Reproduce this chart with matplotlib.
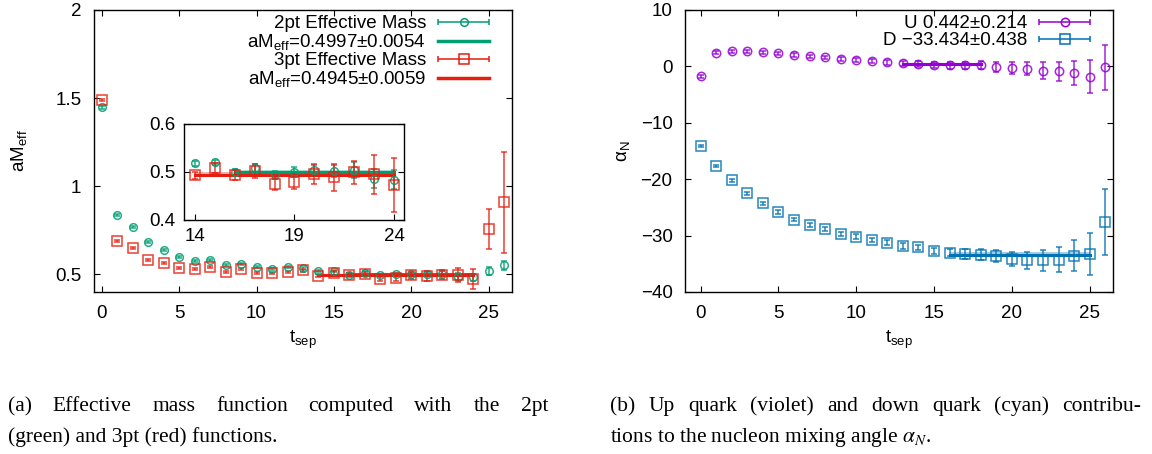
import numpy as np
import matplotlib.pyplot as plt
from matplotlib.lines import Line2D
from matplotlib.legend_handler import HandlerErrorbar

plt.rcParams['font.family'] = ['Liberation Sans', 'DejaVu Sans']
plt.rcParams['font.size'] = 13.5

# Datos: masa efectiva (2pt y 3pt) vs t_sep
tsep = np.arange(27)
m2pt = [1.447, 0.835, 0.769, 0.684, 0.640, 0.597, 0.576, 0.583, 0.551, 0.559,
        0.540, 0.530, 0.540, 0.534, 0.518, 0.520, 0.499, 0.508, 0.494, 0.500,
        0.504, 0.502, 0.504, 0.486, 0.484, 0.521, 0.551]
m2pt_err = [0.006, 0.005, 0.005, 0.005, 0.005, 0.005, 0.005, 0.006, 0.006, 0.006,
            0.006, 0.006, 0.006, 0.007, 0.005, 0.006, 0.008, 0.009, 0.008, 0.010,
            0.011, 0.013, 0.016, 0.020, 0.020, 0.022, 0.026]
m3pt = [1.489, 0.689, 0.649, 0.583, 0.5625, 0.534, 0.530, 0.540, 0.513, 0.530,
        0.507, 0.509, 0.513, 0.523, 0.493, 0.508, 0.494, 0.502, 0.476, 0.480,
        0.495, 0.489, 0.499, 0.495, 0.473, 0.757, 0.909]
m3pt_err = [0.007, 0.006, 0.006, 0.006, 0.006, 0.006, 0.006, 0.006, 0.006, 0.006,
            0.006, 0.006, 0.007, 0.007, 0.008, 0.011, 0.011, 0.014, 0.013, 0.016,
            0.021, 0.028, 0.023, 0.041, 0.056, 0.115, 0.285]
fit2 = (0.4997, 0.0054)
fit2_range = (16, 24)
fit3 = (0.4945, 0.0059)
fit3_range = (14, 24)

# Datos: angulo de mezcla alpha_N (quark U y D)
alpha_u = [-1.76, 2.41, 2.70, 2.65, 2.53, 2.29, 2.00, 1.76, 1.59, 1.29,
           1.12, 0.94, 0.71, 0.53, 0.47, 0.24, 0.18, 0.18, 0.24, -0.12,
           -0.29, -0.41, -0.76, -0.88, -1.18, -1.82, -0.12]
alpha_u_err = [0.25, 0.25, 0.25, 0.25, 0.25, 0.25, 0.3, 0.3, 0.3, 0.35,
               0.35, 0.4, 0.4, 0.45, 0.5, 0.55, 0.6, 0.6, 0.7, 0.9,
               1.06, 1.2, 1.48, 1.74, 2.2, 2.9, 4.0]
alpha_d = [-14.1, -17.6, -20.2, -22.5, -24.3, -25.8, -27.2, -28.1, -28.9, -29.7,
           -30.2, -30.8, -31.3, -31.9, -32.1, -32.7, -33.0, -33.2, -33.4, -33.6,
           -34.15, -34.4, -34.4, -34.3, -33.55, -33.3, -27.6]
alpha_d_err = [0.2, 0.2, 0.25, 0.25, 0.25, 0.3, 0.3, 0.3, 0.35, 0.35,
               0.4, 0.4, 0.45, 0.5, 0.5, 0.55, 0.7, 0.9, 1.0, 1.1,
               1.24, 1.5, 1.8, 2.2, 2.7, 3.7, 5.8]
fit_u = (0.442, 0.214)
fit_u_range = (13, 18)
fit_d = (-33.434, 0.438)
fit_d_range = (16, 25)

GREEN = '#009e73'
RED = '#e51e10'
VIOLET = '#9400d3'
BLUE = '#0072b2'

W, H = 1152, 454
fig = plt.figure(figsize=(W / 100, H / 100), dpi=100)


def px_axes(x0, x1, ytop, ybot):
    return fig.add_axes([x0 / W, 1 - ybot / H, (x1 - x0) / W, (ybot - ytop) / H])


def puntos(ax, y, yerr, color, marker, ms):
    ax.errorbar(tsep, y, yerr=yerr, fmt=marker, color=color, mfc='none', ms=ms,
                mew=1.1, elinewidth=1.1, capsize=2.2, capthick=1.1, alpha=0.85)


def ajuste(ax, fit, rng, color):
    v, e = fit
    ax.fill_between(rng, [v - e] * 2, [v + e] * 2, color=color, alpha=0.35, lw=0)
    ax.plot(rng, [v, v], color=color, lw=2.2)


def estilo(ax, pad=9, top=True):
    ax.tick_params(direction='in', top=top, right=True, length=4, width=0.8, pad=pad)
    for s in ax.spines.values():
        s.set_linewidth(1.0)


def proxy(ax, color, marker, ms):
    return ax.errorbar([np.nan], [np.nan], xerr=[1], fmt=marker, color=color,
                       mfc='none', ms=ms, mew=1.1, elinewidth=1.1, capsize=2.2,
                       capthick=1.1)


def leyenda(ax, handles, labels, width_px):
    # markerfirst=False: el texto queda alineado a la derecha, pegado al simbolo
    hl = 2.7
    hmap = {h: HandlerErrorbar(xerr_size=hl / 2) for h in handles
            if not isinstance(h, Line2D)}
    return ax.legend(handles, labels, loc='upper right', frameon=False,
                     markerfirst=False, handlelength=hl, handletextpad=0.65,
                     labelspacing=0.0, borderpad=0, borderaxespad=0,
                     bbox_to_anchor=(1 - 23 / width_px, 1 - 5 / 282),
                     handler_map=hmap, fontsize=13.5)


# (a) masa efectiva
ax1 = px_axes(94, 512, 10, 292)
puntos(ax1, m2pt, m2pt_err, GREEN, 'o', 5.5)
ajuste(ax1, fit2, fit2_range, GREEN)
puntos(ax1, m3pt, m3pt_err, RED, 's', 6.5)
ajuste(ax1, fit3, fit3_range, RED)
ax1.set_xlim(-0.5, 26.5)
ax1.set_ylim(0.4, 2.0)
ax1.set_xticks([0, 5, 10, 15, 20, 25])
ax1.set_yticks([0.5, 1, 1.5, 2])
ax1.set_yticklabels(['0.5', '1', '1.5', '2'])
estilo(ax1)
ax1.set_xlabel(r'$\mathregular{t_{sep}}$')
ax1.set_ylabel(r'$\mathregular{aM_{eff}}$')
ax1.xaxis.set_label_coords(0.5, -0.13)
ax1.yaxis.set_label_coords(-0.155, 0.5)

h2 = proxy(ax1, GREEN, 'o', 5.5)
h3 = proxy(ax1, RED, 's', 6.5)
l2 = Line2D([], [], color=GREEN, lw=2.5)
l3 = Line2D([], [], color=RED, lw=2.5)
leyenda(ax1, [h2, l2, h3, l3],
        ['2pt Effective Mass', r'aM$\mathregular{_{eff}}$=0.4997±0.0054',
         '3pt Effective Mass', r'aM$\mathregular{_{eff}}$=0.4945±0.0059'], 418)

# recuadro
axi = px_axes(184, 404, 124, 220)
puntos(axi, m2pt, m2pt_err, GREEN, 'o', 5.5)
ajuste(axi, fit2, fit2_range, GREEN)
puntos(axi, m3pt, m3pt_err, RED, 's', 6.5)
ajuste(axi, fit3, fit3_range, RED)
axi.set_xlim(13.45, 24.5)
axi.set_ylim(0.4, 0.6)
axi.set_xticks([14, 19, 24])
axi.set_yticks([0.4, 0.5, 0.6])
estilo(axi, pad=6, top=False)

# (b) alpha_N
ax2 = px_axes(685, 1113, 10, 292)
puntos(ax2, alpha_u, alpha_u_err, VIOLET, 'o', 6)
ajuste(ax2, fit_u, fit_u_range, VIOLET)
puntos(ax2, alpha_d, alpha_d_err, BLUE, 's', 6.5)
ajuste(ax2, fit_d, fit_d_range, BLUE)
ax2.set_xlim(-1, 26.5)
ax2.set_ylim(-40, 10)
ax2.set_xticks([0, 5, 10, 15, 20, 25])
ax2.set_yticks([-40, -30, -20, -10, 0, 10])
estilo(ax2)
ax2.set_xlabel(r'$\mathregular{t_{sep}}$')
ax2.set_ylabel(r'α$\mathregular{_N}$')
ax2.xaxis.set_label_coords(0.5, -0.13)
ax2.yaxis.set_label_coords(-0.124, 0.5)

hu = proxy(ax2, VIOLET, 'o', 6)
hd = proxy(ax2, BLUE, 's', 6.5)
leyenda(ax2, [hu, hd], ['U 0.442±0.214', 'D −33.434±0.438'], 428)


# Pies de figura
def justificado(texto, x0, x1, y, **kw):
    r = fig.canvas.get_renderer()
    palabras = texto.split()
    arts = [fig.text(0, 1 - y / H, p, va='baseline', **kw) for p in palabras]
    anchos = [a.get_window_extent(r).width for a in arts]
    hueco = (x1 - x0 - sum(anchos)) / (len(arts) - 1)
    x = x0
    for a, w in zip(arts, anchos):
        a.set_x(x / W)
        x += w + hueco


cap = dict(family=['Liberation Serif', 'DejaVu Serif'], fontsize=15.5,
           math_fontfamily='stix')
justificado('(a) Effective mass function computed with the 2pt', 8, 548, 411, **cap)
fig.text(8 / W, 1 - 442 / H, '(green) and 3pt (red) functions.', va='baseline', **cap)
justificado('(b) Up quark (violet) and down quark (cyan) contribu-', 610, 1141, 411, **cap)
fig.text(610 / W, 1 - 442 / H, r'tions to the nucleon mixing angle $\alpha_N$.',
         va='baseline', **cap)

fig.savefig('out.png', dpi=100)
